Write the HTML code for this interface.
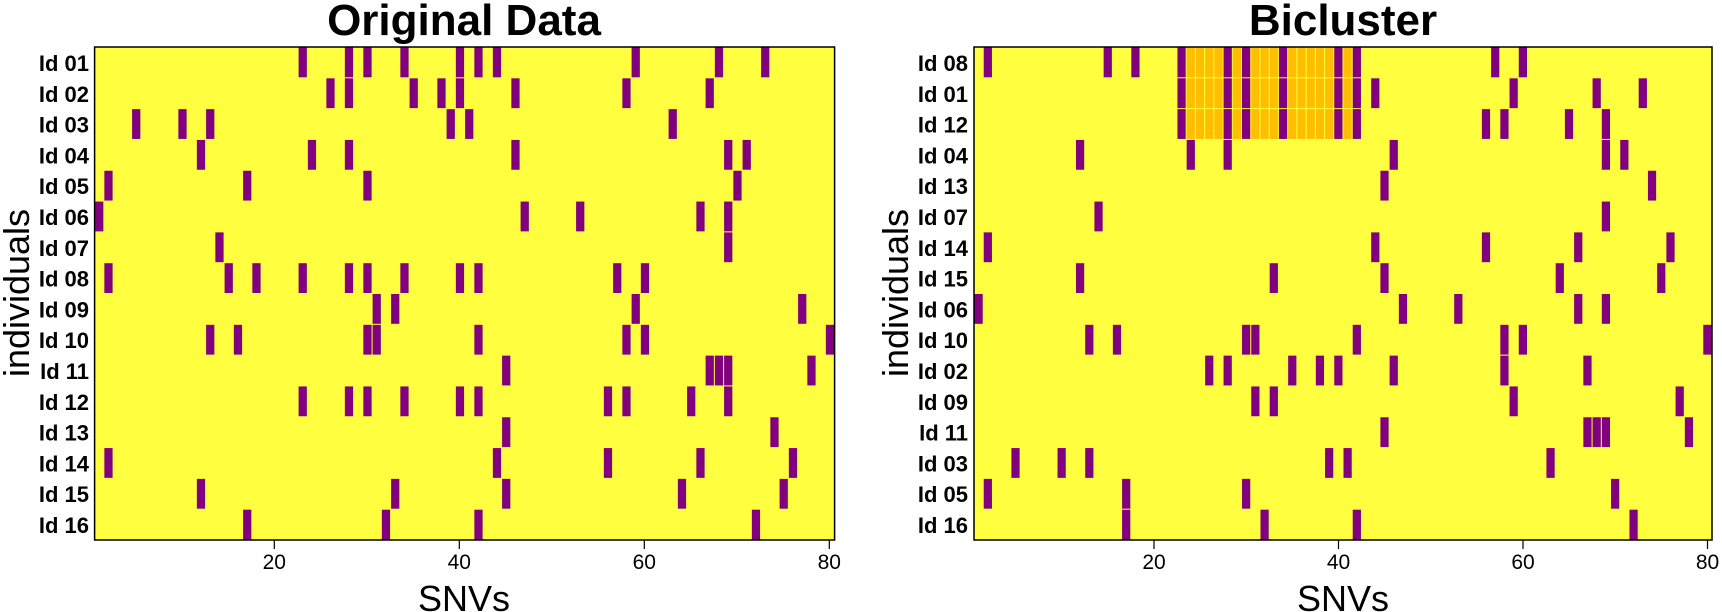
<!DOCTYPE html>
<html><head><meta charset="utf-8">
<style>
html,body{margin:0;padding:0;background:#fff;}
svg{display:block;font-family:"Liberation Sans",sans-serif;}
.rl{font-weight:bold;font-size:22px;text-anchor:end;}
.tk{font-size:21px;text-anchor:middle;}
.ttl{font-weight:bold;font-size:44px;text-anchor:middle;}
.ax{font-size:36px;text-anchor:middle;}
</style></head>
<body>
<svg id="s" width="1722" height="612" viewBox="0 0 1722 612">
<rect x="94.6" y="47" width="740" height="493" fill="#FFFF3F"/>
<rect x="974" y="47" width="738" height="493" fill="#FFFF3F"/>
<g id="cells"></g>
<rect x="94.6" y="47" width="740" height="493" fill="none" stroke="#000" stroke-width="1.5"/>
<rect x="974" y="47" width="738" height="493" fill="none" stroke="#000" stroke-width="1.5"/>
<g stroke="#000" stroke-width="1.2">
<line x1="274.3" y1="540" x2="274.3" y2="549"/><line x1="459.3" y1="540" x2="459.3" y2="549"/>
<line x1="644.3" y1="540" x2="644.3" y2="549"/><line x1="829.3" y1="540" x2="829.3" y2="549"/>
<line x1="1154" y1="540" x2="1154" y2="549"/><line x1="1338.5" y1="540" x2="1338.5" y2="549"/>
<line x1="1523" y1="540" x2="1523" y2="549"/><line x1="1707.5" y1="540" x2="1707.5" y2="549"/>
</g>
<text class="tk" x="274.3" y="569">20</text><text class="tk" x="459.3" y="569">40</text>
<text class="tk" x="644.3" y="569">60</text><text class="tk" x="829.3" y="569">80</text>
<text class="tk" x="1154" y="569">20</text><text class="tk" x="1338.5" y="569">40</text>
<text class="tk" x="1523" y="569">60</text><text class="tk" x="1707.5" y="569">80</text>
<text class="ttl" x="464" y="35">Original Data</text>
<text class="ttl" x="1343" y="35">Bicluster</text>
<text class="ax" x="464" y="611">SNVs</text>
<text class="ax" x="1343" y="611">SNVs</text>
<text class="ax" transform="translate(29,293) rotate(-90)">individuals</text>
<text class="ax" transform="translate(908,293) rotate(-90)">individuals</text>
<g class="rl">
<text x="89" y="71">Id 01</text><text x="89" y="101.8">Id 02</text><text x="89" y="132.6">Id 03</text><text x="89" y="163.4">Id 04</text>
<text x="89" y="194.2">Id 05</text><text x="89" y="225">Id 06</text><text x="89" y="255.8">Id 07</text><text x="89" y="286.6">Id 08</text>
<text x="89" y="317.4">Id 09</text><text x="89" y="348.2">Id 10</text><text x="89" y="379">Id 11</text><text x="89" y="409.8">Id 12</text>
<text x="89" y="440.6">Id 13</text><text x="89" y="471.4">Id 14</text><text x="89" y="502.2">Id 15</text><text x="89" y="533">Id 16</text>
<text x="968" y="71">Id 08</text><text x="968" y="101.8">Id 01</text><text x="968" y="132.6">Id 12</text><text x="968" y="163.4">Id 04</text>
<text x="968" y="194.2">Id 13</text><text x="968" y="225">Id 07</text><text x="968" y="255.8">Id 14</text><text x="968" y="286.6">Id 15</text>
<text x="968" y="317.4">Id 06</text><text x="968" y="348.2">Id 10</text><text x="968" y="379">Id 02</text><text x="968" y="409.8">Id 09</text>
<text x="968" y="440.6">Id 11</text><text x="968" y="471.4">Id 03</text><text x="968" y="502.2">Id 05</text><text x="968" y="533">Id 16</text>
</g>
</svg>
<script>
var D={
"01":[23,28,30,34,40,42,44,59,68,73],
"02":[26,28,35,38,40,46,58,67],
"03":[5,10,13,39,41,63],
"04":[12,24,28,46,69,71],
"05":[2,17,30,70],
"06":[1,47,53,66,69],
"07":[14,69],
"08":[2,15,18,23,28,30,34,40,42,57,60],
"09":[31,33,59,77],
"10":[13,16,30,31,42,58,60,80],
"11":[45,67,68,69,78],
"12":[23,28,30,34,40,42,56,58,65,69],
"13":[45,74],
"14":[2,44,56,66,76],
"15":[12,33,45,64,75],
"16":[17,32,42,72]};
var L=["01","02","03","04","05","06","07","08","09","10","11","12","13","14","15","16"];
var R=["08","01","12","04","13","07","14","15","06","10","02","09","11","03","05","16"];
var g=document.getElementById("cells"),ns="http://www.w3.org/2000/svg";
var y0=47,rh=493/16;
function rect(x,y,w,h,c){var r=document.createElementNS(ns,"rect");r.setAttribute("x",x);r.setAttribute("y",y);r.setAttribute("width",w);r.setAttribute("height",h);r.setAttribute("fill",c);g.appendChild(r);}
function panel(order,x0,w,bic){
 order.forEach(function(id,i){
  var y=y0+i*rh;
  if(bic&&i<3){for(var c=23;c<=42;c++){rect(x0+(c-1)*w+0.5,y+0.5,w-1,rh-1,"#FFBF00");}}
  D[id].forEach(function(c){rect(x0+(c-1)*w+0.5,y+0.5,w-1,rh-1,"#800080");});
 });
}
panel(L,94.6,9.25,false);
panel(R,974,9.225,true);
</script>
</body></html>
